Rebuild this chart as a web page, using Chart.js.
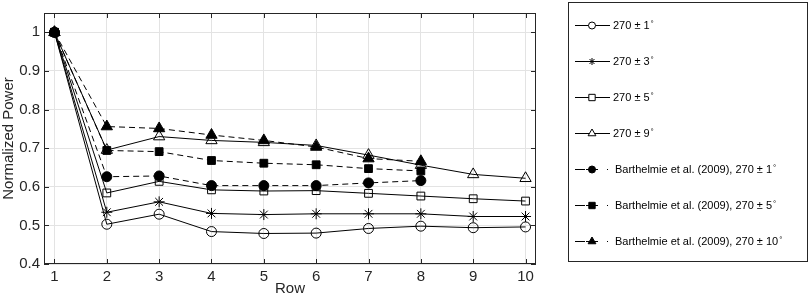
<!DOCTYPE html>
<html>
<head>
<meta charset="utf-8">
<script src="https://cdn.jsdelivr.net/npm/chart.js@4"></script>
<style>
  html, body { margin: 0; padding: 0; background: #fff; }
  #wrap { width: 809px; height: 298px; position: relative; }
</style>
</head>
<body>
<div id="wrap"><canvas id="powerChart" width="809" height="298"></canvas></div>
<script>
const rows = [1, 2, 3, 4, 5, 6, 7, 8, 9, 10];
const rowsBarth = [1, 2, 3, 4, 5, 6, 7, 8];
const yTicks = [0.4, 0.5, 0.6, 0.7, 0.8, 0.9, 1];

const sim1 = [1.0, 0.503, 0.529, 0.484, 0.479, 0.480, 0.492, 0.498, 0.494, 0.496];
const sim3 = [1.0, 0.534, 0.561, 0.531, 0.528, 0.530, 0.530, 0.530, 0.523, 0.523];
const sim5 = [1.0, 0.584, 0.614, 0.592, 0.589, 0.590, 0.583, 0.576, 0.569, 0.563];
const sim9 = [1.0, 0.695, 0.730, 0.720, 0.715, 0.707, 0.682, 0.656, 0.632, 0.622];
const barth1 = [1.0, 0.626, 0.628, 0.603, 0.603, 0.603, 0.610, 0.616];
const barth5 = [1.0, 0.694, 0.691, 0.668, 0.661, 0.657, 0.647, 0.641];
const barth10 = [1.0, 0.756, 0.751, 0.734, 0.720, 0.703, 0.673, 0.666];

const legendLabels = [
    '270 \u00b1 1',
    '270 \u00b1 3',
    '270 \u00b1 5',
    '270 \u00b1 9',
    'Barthelmie et al. (2009), 270 \u00b1 1',
    'Barthelmie et al. (2009), 270 \u00b1 5',
    'Barthelmie et al. (2009), 270 \u00b1 10'
];

const FONT = '"Liberation Sans", Arial, Helvetica, sans-serif';

function toPoints(xs, ys) {
    return ys.map((v, i) => ({ x: xs[i], y: v }));
}

function series(xs, ys, style, radius, filled, dashed, order) {
    return {
        data: toPoints(xs, ys),
        borderColor: '#000',
        backgroundColor: filled ? '#000' : 'rgba(0,0,0,0)',
        pointBackgroundColor: filled ? '#000' : 'rgba(0,0,0,0)',
        pointBorderColor: '#000',
        pointStyle: style,
        pointRadius: radius,
        pointBorderWidth: 1,
        borderWidth: 1,
        borderDash: dashed ? [6, 4] : [],
        tension: 0,
        fill: false,
        order: order
    };
}

const datasets = [
    series(rows, sim1, 'circle', 5, false, false, 7),
    series(rows, sim3, 'star', 5.5, false, false, 6),
    series(rows, sim5, 'rect', 5.5, false, false, 5),
    series(rows, sim9, 'triangle', 6.5, false, false, 4),
    series(rowsBarth, barth1, 'circle', 5, true, true, 3),
    series(rowsBarth, barth5, 'rect', 5.5, true, true, 2),
    series(rowsBarth, barth10, 'triangle', 6.5, true, true, 1)
];

// plot frame + inward ticks, MATLAB style
const framePlugin = {
    id: 'frame',
    afterDatasetsDraw(chart) {
        const { ctx, chartArea: a, scales } = chart;
        ctx.save();
        ctx.strokeStyle = '#262626';
        ctx.lineWidth = 1;
        ctx.strokeRect(a.left + 0.5, a.top + 0.5, a.right - a.left - 1, a.bottom - a.top - 1);
        ctx.beginPath();
        rows.forEach(r => {
            const px = Math.round(scales.x.getPixelForValue(r)) + 0.5;
            ctx.moveTo(px, a.bottom); ctx.lineTo(px, a.bottom - 5);
            ctx.moveTo(px, a.top); ctx.lineTo(px, a.top + 5);
        });
        yTicks.forEach(v => {
            const py = Math.round(scales.y.getPixelForValue(v)) + 0.5;
            ctx.moveTo(a.left, py); ctx.lineTo(a.left + 5, py);
            ctx.moveTo(a.right, py); ctx.lineTo(a.right - 5, py);
        });
        ctx.stroke();
        ctx.restore();
    }
};

// legend box on the right
const legendPlugin = {
    id: 'sideLegend',
    afterDraw(chart) {
        const ctx = chart.ctx;
        const box = { left: 568.5, top: 2.5, right: 807.5, bottom: 261.5 };
        ctx.save();
        ctx.strokeStyle = '#262626';
        ctx.lineWidth = 1;
        ctx.strokeRect(box.left, box.top, box.right - box.left, box.bottom - box.top);
        const y0 = 25, dy = 36;
        legendLabels.forEach((lab, i) => {
            const ds = chart.data.datasets[i];
            const y = y0 + i * dy;
            const dashed = ds.borderDash.length > 0;
            const filled = ds.pointBackgroundColor === '#000';
            ctx.strokeStyle = '#000';
            ctx.lineWidth = 1;
            ctx.beginPath();
            if (dashed) {
                ctx.moveTo(575, y + 0.5); ctx.lineTo(585, y + 0.5);
                ctx.moveTo(586, y + 0.5); ctx.lineTo(598, y + 0.5);
                ctx.moveTo(607, y + 0.5); ctx.lineTo(608, y + 0.5);
            } else {
                ctx.moveTo(575, y + 0.5); ctx.lineTo(610, y + 0.5);
            }
            ctx.stroke();
            ctx.fillStyle = filled ? '#000' : '#fff';
            Chart.helpers.drawPoint(ctx, {
                pointStyle: ds.pointStyle,
                radius: ds.pointStyle === 'triangle' ? 4.5 : (ds.pointStyle === 'rect' ? 4.5 : 3.5),
                rotation: 0,
                borderWidth: 1
            }, 592, y + 0.5);
            ctx.fillStyle = '#000';
            ctx.font = '11px ' + FONT;
            ctx.textBaseline = 'middle';
            ctx.textAlign = 'left';
            const tx = dashed ? 615 : 613;
            ctx.fillText(lab, tx, y + 1);
            const w = ctx.measureText(lab).width;
            ctx.font = '8px ' + FONT;
            ctx.textBaseline = 'alphabetic';
            ctx.fillText('\u00b0', tx + w + 1, y + 1);
        });
        ctx.restore();
    }
};

const ctx = document.getElementById('powerChart').getContext('2d');
const chart = new Chart(ctx, {
    type: 'line',
    data: { datasets: datasets },
    options: {
        responsive: false,
        animation: false,
        devicePixelRatio: 1,
        layout: { padding: { top: 5, right: 273, left: 0, bottom: 0 } },
        plugins: {
            legend: { display: false },
            tooltip: { enabled: false }
        },
        scales: {
            x: {
                type: 'linear',
                min: 0.8,
                max: 10.2,
                afterBuildTicks: s => { s.ticks = rows.map(v => ({ value: v })); },
                afterFit: s => { s.height = 34; },
                grid: { color: '#e3e3e3', drawTicks: false },
                border: { display: false },
                ticks: {
                    color: '#262626',
                    font: { family: FONT, size: 15 },
                    padding: 4,
                    maxRotation: 0,
                    callback: v => String(v)
                },
                title: {
                    display: true,
                    text: 'Row',
                    color: '#262626',
                    font: { family: FONT, size: 15 },
                    padding: { top: 0, bottom: 0 }
                }
            },
            y: {
                type: 'linear',
                min: 0.4,
                max: 1.05,
                afterBuildTicks: s => { s.ticks = yTicks.map(v => ({ value: v })); },
                afterFit: s => { s.width = 44; },
                grid: { color: '#e3e3e3', drawTicks: false },
                border: { display: false },
                ticks: {
                    color: '#262626',
                    font: { family: FONT, size: 15 },
                    padding: 4,
                    callback: v => String(v)
                },
                title: {
                    display: true,
                    text: 'Normalized Power',
                    color: '#262626',
                    font: { family: FONT, size: 15 },
                    padding: { top: 0, bottom: 0 }
                }
            }
        }
    },
    plugins: [framePlugin, legendPlugin]
});
</script>
</body>
</html>
